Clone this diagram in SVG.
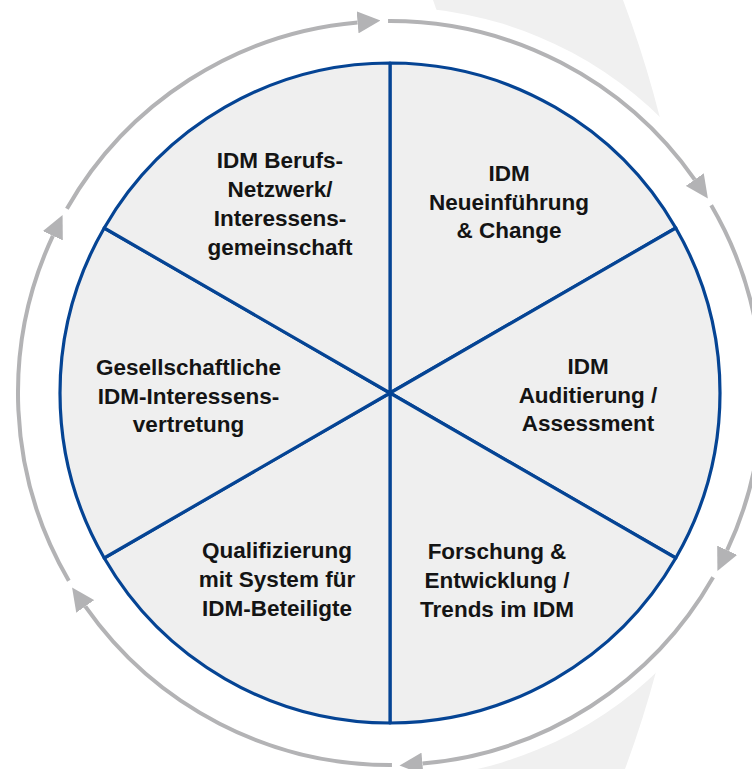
<svg xmlns="http://www.w3.org/2000/svg" width="752" height="769" viewBox="0 0 752 769">
<defs>
<style>
.bg{fill:#f0f0f0}
.wedge{fill:#efefef;stroke:#054494;stroke-width:3.2;stroke-linejoin:round}
.ring{fill:none;stroke:#b3b3b5;stroke-width:4;marker-end:url(#ah)}
.lbl{font-family:"Liberation Sans",Arial,sans-serif;font-weight:bold;font-size:22.5px;fill:#141414;text-anchor:middle}
</style>
<marker id="ah" markerUnits="userSpaceOnUse" markerWidth="23" markerHeight="22" viewBox="0 0 23 22" refX="0" refY="11" orient="auto">
<path d="M0,0 L23,11 L0,22 Z" fill="#b3b3b5"/>
</marker>
</defs>
<rect width="752" height="769" fill="#ffffff"/>
<path class="bg" d="M433,0 L623,0 A1099,1099 0 0 1 625,769 L430,769 L440,20 Z"/>
<circle cx="390" cy="393" r="386" fill="#ffffff"/>
<g id="connectors">
<path class="ring" d="M388.05,21 A372,372 0 0 1 694.72,179.63"/>
<path class="ring" d="M711.19,205.31 A372,372 0 0 1 727.15,550.21"/>
<path class="ring" d="M713.13,577.31 A372,372 0 0 1 422.42,763.58"/>
<path class="ring" d="M391.95,765 A372,372 0 0 1 85.28,606.37"/>
<path class="ring" d="M68.81,580.69 A372,372 0 0 1 52.85,235.79"/>
<path class="ring" d="M66.87,208.69 A372,372 0 0 1 357.58,22.42"/>
</g>
<g id="n-neueinfuehrung">
<path class="wedge" d="M390,393 L390,63 A330,330 0 0 1 675.79,228 Z"/>
<text class="lbl" x="509" y="181">IDM</text>
<text class="lbl" x="509" y="209.5">Neueinführung</text>
<text class="lbl" x="509" y="238">&amp; Change</text>
</g>
<g id="n-auditierung">
<path class="wedge" d="M390,393 L675.79,228 A330,330 0 0 1 675.79,558 Z"/>
<text class="lbl" x="588" y="374">IDM</text>
<text class="lbl" x="588" y="403">Auditierung /</text>
<text class="lbl" x="588" y="431">Assessment</text>
</g>
<g id="n-forschung">
<path class="wedge" d="M390,393 L675.79,558 A330,330 0 0 1 390,723 Z"/>
<text class="lbl" x="497" y="559">Forschung &amp;</text>
<text class="lbl" x="497" y="588">Entwicklung /</text>
<text class="lbl" x="497" y="617">Trends im IDM</text>
</g>
<g id="n-qualifizierung">
<path class="wedge" d="M390,393 L390,723 A330,330 0 0 1 104.21,558 Z"/>
<text class="lbl" x="277" y="558">Qualifizierung</text>
<text class="lbl" x="277" y="587">mit System für</text>
<text class="lbl" x="277" y="616">IDM-Beteiligte</text>
</g>
<g id="n-gesellschaft">
<path class="wedge" d="M390,393 L104.21,558 A330,330 0 0 1 104.21,228 Z"/>
<text class="lbl" x="188.5" y="375">Gesellschaftliche</text>
<text class="lbl" x="188.5" y="404">IDM-Interessens-</text>
<text class="lbl" x="188.5" y="432">vertretung</text>
</g>
<g id="n-netzwerk">
<path class="wedge" d="M390,393 L104.21,228 A330,330 0 0 1 390,63 Z"/>
<text class="lbl" x="280" y="168">IDM Berufs-</text>
<text class="lbl" x="280" y="197">Netzwerk/</text>
<text class="lbl" x="280" y="226">Interessens-</text>
<text class="lbl" x="280" y="255">gemeinschaft</text>
</g>
</svg>
